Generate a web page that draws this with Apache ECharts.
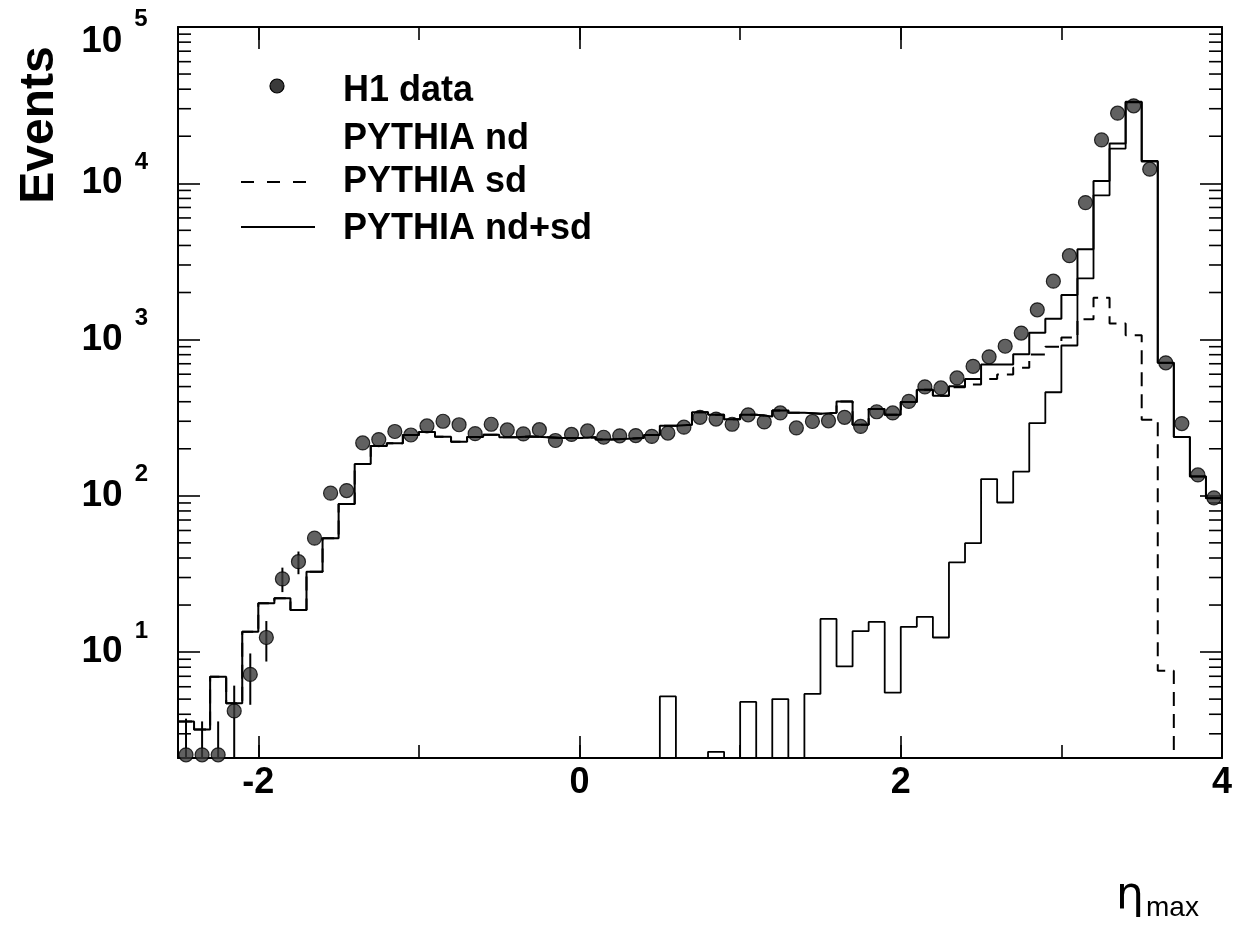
<!DOCTYPE html>
<html>
<head>
<meta charset="utf-8">
<script src="https://cdn.jsdelivr.net/npm/echarts@6/dist/echarts.min.js"></script>
<style>
html,body{margin:0;padding:0;background:#fff;}
#chart{width:1241px;height:939px;}
</style>
</head>
<body>
<div id="chart"></div>
<script>
// ---- bin edges (eta_max), 0.1 wide ----
const etaEdges = [-2.5,-2.4,-2.3,-2.2,-2.1,-2.0,-1.9,-1.8,-1.7,-1.6,-1.5,-1.4,-1.3,-1.2,-1.1,-1.0,-0.9,-0.8,-0.7,-0.6,-0.5,-0.4,-0.3,-0.2,-0.1,0.0,0.1,0.2,0.3,0.4,0.5,0.6,0.7,0.8,0.9,1.0,1.1,1.2,1.3,1.4,1.5,1.6,1.7,1.8,1.9,2.0,2.1,2.2,2.3,2.4,2.5,2.6,2.7,2.8,2.9,3.0,3.1,3.2,3.3,3.4,3.5,3.6,3.7,3.8,3.9,4.0];

// ---- H1 data (events per bin) ----
const h1Data = [2.2,2.2,2.2,4.2,7.2,12.4,29.4,37.9,53.6,104,
  108,218,229,258,245,280,300,285,250,287,
  264,249,265,226,247,260,237,242,243,240,
  252,275,318,310,287,330,297,339,272,299,
  302,318,278,345,339,402,498,490,568,674,
  775,906,1100,1550,2364,3440,7520,18950,28100,31300,
  12300,710,290,136,97];
// visible error bars (null = hidden inside marker)
const h1ErrLo = [1,1,1,2.0,4.6,8.7,24.2,31.5,null,null,
  null,null,null,null,null,null,null,null,null,null,
  null,null,null,null,null,null,null,null,null,null,
  null,null,null,null,null,null,null,null,null,null,
  null,null,null,null,null,null,null,null,null,null,
  null,null,null,null,null,null,null,null,null,null,
  null,null,null,null,null];
const h1ErrHi = [3.75,3.6,3.6,6.1,9.8,15.8,34.7,44,null,null,
  null,null,null,null,null,null,null,null,null,null,
  null,null,null,null,null,null,null,null,null,null,
  null,null,null,null,null,null,null,null,null,null,
  null,null,null,null,null,null,null,null,null,null,
  null,null,null,null,null,null,null,null,null,null,
  null,null,null,null,null];

// ---- PYTHIA nd ----
const pythiaNd = [0,0,0,0,0,0,0,0,0,0,
  0,0,0,0,0,0,0,0,0,0,
  0,0,0,0,0,0,0,0,0,0,
  5.2,0,0,2.3,0,4.8,0,5.0,0,5.4,
  16.3,8.1,13.6,15.6,5.5,14.5,16.8,12.4,37.5,49.8,
  128,90.6,143,292,460,916,2460,8370,16680,33000,
  13750,710,238,133,96.6];

// ---- PYTHIA sd ----
const pythiaSd = [3.6,3.2,6.95,4.7,13.5,20.5,22.1,18.6,32.7,53.6,
  88.5,160,208,217,245,256,239,222,238,246,
  237,240,237,234,234,237,229,232,234,245,
  281,285,342,330,309,330,322,352,340,335,
  340,402,285,360,330,398,478,437,495,515,
  560,597,660,802,900,1030,1350,1850,1268,1066,
  307,7.6,0,0,0];

// ---- PYTHIA nd+sd ----
const pythiaNdSd = [3.6,3.2,6.95,4.7,13.5,20.5,22.1,18.6,32.7,53.6,
  88.5,160,208,217,245,256,239,222,238,246,
  237,240,237,234,234,237,229,232,234,245,
  281,285,342,330,309,330,322,352,340,335,
  340,402,285,360,330,398,478,437,502,560,
  692,692,805,1104,1358,1930,3776,10350,17950,33200,
  13900,710,238,133,96.6];

// ---- minor tick values of the log axis ----
const yMinorTicks = [3,4,5,6,7,8,9,20,30,40,50,60,70,80,90,200,300,400,500,600,700,800,900,
  2000,3000,4000,5000,6000,7000,8000,9000,20000,30000,40000,50000,60000,70000,80000,90000];

const X_MIN = -2.5, X_MAX = 4, Y_MIN = 2.1, Y_MAX = 100000;
const EMPTY = 0.01; // stand-in for empty bins on a log axis (falls below the frame)
const FONT = '"Liberation Sans", Arial, Helvetica, sans-serif';

function stepData(vals) {
  const d = vals.map((v, i) => [etaEdges[i], v > 0 ? v : EMPTY]);
  const last = vals[vals.length - 1];
  d.push([etaEdges[vals.length], last > 0 ? last : EMPTY]);
  return d;
}
const centers = h1Data.map((_, i) => (etaEdges[i] + etaEdges[i + 1]) / 2);

const chart = echarts.init(document.getElementById('chart'), null, {renderer: 'canvas'});

const tickStyle = {color: '#000', width: 1.6};
const xBase = {
  type: 'value', min: X_MIN, max: X_MAX,
  splitLine: {show: false}, axisLabel: {show: false},
  axisLine: {show: false, onZero: false},
  axisTick: {show: true, inside: true, length: 13, lineStyle: tickStyle}
};
const frameLine = {show: true, onZero: false, lineStyle: {color: '#000', width: 2}};
const bStyle = {fontSize: 37, fontWeight: 'bold', fontFamily: FONT, color: '#000'};
const sStyle = {fontSize: 24, fontWeight: 'bold', fontFamily: FONT, color: '#000'};

const option = {
  animation: false,
  backgroundColor: '#fff',
  grid: {left: 178, right: 19, top: 27, bottom: 181, containLabel: false, outerBoundsMode: 'none'},
  xAxis: [
    Object.assign({}, xBase, {
      position: 'bottom', splitNumber: 3, minInterval: 2, maxInterval: 2,
      axisLine: frameLine,
      axisTick: {show: true, inside: true, length: 22, lineStyle: tickStyle},
      axisLabel: {
        show: true, color: '#000', fontSize: 36, fontWeight: 'bold', fontFamily: FONT, margin: 7,
        formatter: v => (Math.abs(v - Math.round(v)) < 1e-9 ? String(Math.round(v)) : '')
      }
    }),
    Object.assign({}, xBase, {position: 'bottom', splitNumber: 6, minInterval: 1, maxInterval: 1}),
    Object.assign({}, xBase, {
      position: 'top', splitNumber: 3, minInterval: 2, maxInterval: 2,
      axisLine: frameLine,
      axisTick: {show: true, inside: true, length: 22, lineStyle: tickStyle}
    }),
    Object.assign({}, xBase, {position: 'top', splitNumber: 6, minInterval: 1, maxInterval: 1})
  ],
  yAxis: [
    {
      type: 'log', logBase: 10, min: Y_MIN, max: Y_MAX, position: 'left',
      splitLine: {show: false}, minorTick: {show: false},
      axisLine: frameLine,
      axisTick: {show: true, inside: true, length: 22, lineStyle: tickStyle},
      axisLabel: {
        show: true, margin: 30, color: '#000',
        formatter: v => {
          const l = Math.log10(v), e = Math.round(l);
          if (Math.abs(l - e) >= 1e-6) return '';
          if (e === 5) return '{bt|10}{st|' + e + '}{sp| }';
          return '{b|10}{s|' + e + '}';
        },
        rich: {
          b: Object.assign({lineHeight: 66, verticalAlign: 'middle'}, bStyle),
          s: Object.assign({lineHeight: 24, verticalAlign: 'top', padding: [0, 0, 0, 12]}, sStyle),
          bt: Object.assign({lineHeight: 40, verticalAlign: 'bottom'}, bStyle),
          st: Object.assign({lineHeight: 24, verticalAlign: 'top', padding: [13, 0, 0, 12]}, sStyle),
          sp: {fontSize: 1, lineHeight: 66, verticalAlign: 'middle'}
        }
      }
    },
    {
      type: 'log', logBase: 10, min: Y_MIN, max: Y_MAX, position: 'right',
      splitLine: {show: false}, minorTick: {show: false},
      axisLine: frameLine,
      axisTick: {show: true, inside: true, length: 22, lineStyle: tickStyle},
      axisLabel: {show: false}
    }
  ],
  series: [
    {
      name: 'PYTHIA nd', type: 'line', step: 'end', data: stepData(pythiaNd),
      xAxisIndex: 0, yAxisIndex: 0, symbol: 'none', clip: true, silent: true,
      lineStyle: {color: '#000', width: 1.8}
    },
    {
      name: 'PYTHIA sd', type: 'line', step: 'end', data: stepData(pythiaSd),
      xAxisIndex: 0, yAxisIndex: 0, symbol: 'none', clip: true, silent: true,
      lineStyle: {color: '#000', width: 2, type: [14, 8]}
    },
    {
      name: 'PYTHIA nd+sd', type: 'line', step: 'end', data: stepData(pythiaNdSd),
      xAxisIndex: 0, yAxisIndex: 0, symbol: 'none', clip: true, silent: true,
      lineStyle: {color: '#000', width: 2}
    },
    {
      name: 'errors', type: 'custom', xAxisIndex: 0, yAxisIndex: 0, silent: true,
      data: centers.map((c, i) => h1ErrLo[i] != null ? [c, h1ErrLo[i], h1ErrHi[i]] : null).filter(Boolean),
      renderItem: (params, api) => {
        const cs = params.coordSys;
        const p1 = api.coord([api.value(0), api.value(1)]);
        const p2 = api.coord([api.value(0), api.value(2)]);
        const yb = Math.min(p1[1], cs.y + cs.height);
        return {type: 'line', shape: {x1: p1[0], y1: yb, x2: p2[0], y2: p2[1]},
          style: {stroke: '#000', lineWidth: 2}};
      }
    },
    {
      name: 'H1 data', type: 'scatter', xAxisIndex: 0, yAxisIndex: 0, clip: false, silent: true,
      data: centers.map((c, i) => [c, h1Data[i]]),
      symbol: 'circle', symbolSize: 14,
      itemStyle: {color: '#3a3a3a', borderColor: '#000', borderWidth: 1.2}
    },
    {
      name: 'minor ticks', type: 'custom', xAxisIndex: 0, yAxisIndex: 0, silent: true,
      data: yMinorTicks.map(v => [X_MIN, v]),
      renderItem: (params, api) => {
        const cs = params.coordSys;
        const p = api.coord([api.value(0), api.value(1)]);
        const xl = cs.x, xr = cs.x + cs.width;
        return {type: 'group', children: [
          {type: 'line', shape: {x1: xl, y1: p[1], x2: xl + 13, y2: p[1]}, style: {stroke: '#000', lineWidth: 1.6}},
          {type: 'line', shape: {x1: xr - 13, y1: p[1], x2: xr, y2: p[1]}, style: {stroke: '#000', lineWidth: 1.6}}
        ]};
      }
    }
  ],
  graphic: [
    {type: 'text', x: 40, y: 125, rotation: Math.PI / 2,
      style: {text: 'Events', font: 'bold 48px ' + FONT, fill: '#000', textAlign: 'center', textVerticalAlign: 'middle'}},
    {type: 'text', x: 1116, y: 897,
      style: {text: 'η', font: '44px "DejaVu Sans", sans-serif', fill: '#000', textAlign: 'left', textVerticalAlign: 'middle'}},
    {type: 'text', x: 1146, y: 908,
      style: {text: 'max', font: '28px ' + FONT, fill: '#000', textAlign: 'left', textVerticalAlign: 'middle'}},
    // legend
    {type: 'circle', shape: {cx: 277, cy: 86, r: 7}, style: {fill: '#3a3a3a', stroke: '#000', lineWidth: 1.2}},
    {type: 'text', x: 343, y: 91, style: {text: 'H1 data', font: 'bold 36px ' + FONT, fill: '#000', textVerticalAlign: 'middle'}},
    {type: 'text', x: 343, y: 139, style: {text: 'PYTHIA nd', font: 'bold 36px ' + FONT, fill: '#000', textVerticalAlign: 'middle'}},
    {type: 'line', shape: {x1: 241, y1: 182, x2: 307, y2: 182}, style: {stroke: '#000', lineWidth: 2, lineDash: [13, 13]}},
    {type: 'text', x: 343, y: 182, style: {text: 'PYTHIA sd', font: 'bold 36px ' + FONT, fill: '#000', textVerticalAlign: 'middle'}},
    {type: 'line', shape: {x1: 241, y1: 227, x2: 315, y2: 227}, style: {stroke: '#000', lineWidth: 2}},
    {type: 'text', x: 343, y: 229, style: {text: 'PYTHIA nd+sd', font: 'bold 36px ' + FONT, fill: '#000', textVerticalAlign: 'middle'}}
  ]
};
chart.setOption(option);
</script>
</body>
</html>
